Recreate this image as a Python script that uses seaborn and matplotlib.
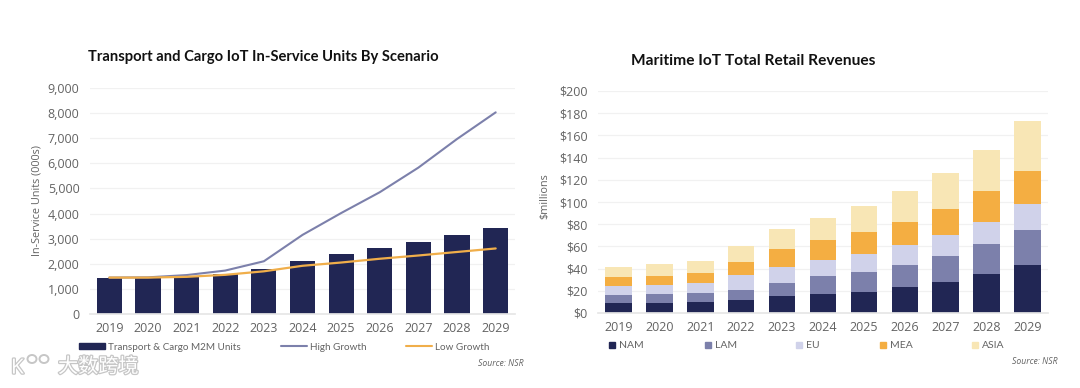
import matplotlib
matplotlib.use("Agg")
import matplotlib.pyplot as plt
import matplotlib.patheffects as pe
from matplotlib.patches import Ellipse
from matplotlib.lines import Line2D
from matplotlib.patches import Patch
import numpy as np
import pandas as pd
import seaborn as sns

# data
years = ["2019", "2020", "2021", "2022", "2023", "2024", "2025", "2026", "2027", "2028", "2029"]

m2m_units = [1430, 1440, 1500, 1600, 1780, 2120, 2390, 2620, 2850, 3140, 3420]
high_growth = [1450, 1460, 1550, 1730, 2100, 3150, 4020, 4850, 5830, 6970, 8030]
low_growth = [1450, 1450, 1480, 1560, 1700, 1920, 2050, 2200, 2330, 2470, 2610]

nam = [9, 9, 10, 12, 15, 17, 19, 23, 28, 35, 43]
lam = [7, 8, 8, 9, 12, 16, 18, 20, 23, 27, 32]
eu = [8, 8, 9, 13, 14, 15, 16, 18, 19, 20, 23]
mea = [8, 8, 9, 12, 17, 18, 20, 21, 24, 28, 30]
asia = [9, 11, 11, 14, 18, 20, 23, 28, 32, 37, 45]

regions = ["NAM", "LAM", "EU", "MEA", "ASIA"]
region_values = [nam, lam, eu, mea, asia]

NAVY = "#212654"
SLATE = "#7c80ab"
LILAC = "#d0d2ea"
ORANGE = "#f4ae42"
CREAM = "#f8e6b5"
GREY = "#636363"
GRID = "#f1f1f1"
LOW_LINE = "#f0ae4a"

sns.set_theme(style="white")
plt.rcParams["font.family"] = ["Open Sans", "Noto Sans CJK SC", "DejaVu Sans"]
LABEL_FONT = ["Lato", "DejaVu Sans"]

W, H = 1080, 388
fig = plt.figure(figsize=(W / 100, H / 100), dpi=100, facecolor="white")


def make_axes(left, right, top, bottom):
    return fig.add_axes([left / W, 1 - bottom / H, (right - left) / W, (bottom - top) / H])


def style_axes(ax, ymax, step, fmt):
    ax.set_ylim(0, ymax)
    ticks = list(range(0, ymax + 1, step))
    ax.set_yticks(ticks)
    ax.set_yticklabels([fmt.format(t) for t in ticks], fontsize=9, color=GREY)
    ax.tick_params(axis="x", labelsize=9, labelcolor=GREY, length=0, pad=6)
    ax.tick_params(axis="y", length=0, pad=7.5)
    ax.grid(axis="y", color=GRID, linewidth=0.9)
    ax.set_axisbelow(True)
    ax.set_xlabel("")
    sns.despine(ax=ax, left=True, top=True, right=True)
    ax.spines["bottom"].set_color("#e6e6e6")


# left chart
ax1 = make_axes(90, 515, 88, 314)
df_left = pd.DataFrame({"year": years, "units": m2m_units, "high": high_growth, "low": low_growth})
sns.barplot(data=df_left, x="year", y="units", color=NAVY, width=0.65, saturation=1, linewidth=0, ax=ax1)
sns.lineplot(data=df_left, x="year", y="high", color=SLATE, linewidth=1.5, ax=ax1)
sns.lineplot(data=df_left, x="year", y="low", color=LOW_LINE, linewidth=1.6, ax=ax1)
style_axes(ax1, 9000, 1000, "{:,}")
ax1.set_xlim(-0.5, 10.5)
ax1.set_ylabel("In-Service Units (000s)", fontsize=7.8, color=GREY, labelpad=3.5)
fig.text(263 / W, 1 - 57 / H, "Transport and Cargo IoT In-Service Units By Scenario",
         fontsize=10.6, fontweight="bold", color="#111111", ha="center", va="center", family=LABEL_FONT)

handles_left = [
    (Patch(color=NAVY), "Transport & Cargo M2M Units", 79),
    (Line2D([], [], color=SLATE, linewidth=1.5), "High Growth", 281),
    (Line2D([], [], color=LOW_LINE, linewidth=1.5), "Low Growth", 406),
]
for handle, label, px in handles_left:
    fig.legend([handle], [label], loc="center left", bbox_to_anchor=(px / W, 1 - 347 / H),
               frameon=False, prop={"family": LABEL_FONT, "size": 7.1}, labelcolor=GREY,
               handlelength=2.6, handleheight=0.45, handletextpad=0.35, borderpad=0, borderaxespad=0)
fig.text(523 / W, 1 - 363 / H, "Source: NSR", fontsize=6.2, style="italic", color=GREY,
         ha="right", va="center")

# right chart
ax2 = make_axes(598, 1048, 91, 313)
df_right = pd.DataFrame(dict(zip(regions, region_values)), index=years)
colors = [NAVY, SLATE, LILAC, ORANGE, CREAM]
bottom = np.zeros(len(years))
for region, color in zip(regions, colors):
    sns.barplot(x=years, y=df_right[region].values, color=color, width=0.65, saturation=1,
                linewidth=0, bottom=bottom, ax=ax2)
    bottom = bottom + df_right[region].values
style_axes(ax2, 200, 20, "${}")
ax2.set_xlim(-0.5, 10.5)
ax2.set_ylabel(r"\$millions", fontsize=7.8, color=GREY, labelpad=6.5, y=0.527)
fig.text(753 / W, 1 - 61 / H, "Maritime IoT Total Retail Revenues",
         fontsize=11.2, fontweight="bold", color="#111111", ha="center", va="center", family=LABEL_FONT)

for region, color, px in zip(regions, colors, [609, 705, 796, 880, 972]):
    fig.legend([Patch(color=color)], [region], loc="center left",
               bbox_to_anchor=(px / W, 1 - 346 / H), frameon=False,
               prop={"family": LABEL_FONT, "size": 7.5}, labelcolor=GREY,
               handlelength=0.6, handleheight=0.6, handletextpad=0.4, borderpad=0, borderaxespad=0)
fig.text(1057 / W, 1 - 362 / H, "Source: NSR", fontsize=6.2, style="italic", color=GREY,
         ha="right", va="center")

# watermark
halo = [pe.withStroke(linewidth=1.8, foreground="#c6c6c6")]
fig.text(58 / W, 1 - 367 / H, "大数跨境", fontsize=14.5, color="white", ha="left", va="center",
         family=["Noto Sans CJK SC", "DejaVu Sans"], path_effects=halo)
fig.text(11 / W, 1 - 368 / H, "K", fontsize=15, color="white", ha="left", va="center",
         path_effects=halo)
for cx, cy in [(32, 359), (44, 359)]:
    fig.add_artist(Ellipse((cx / W, 1 - cy / H), 9 / W, 8 / H, transform=fig.transFigure,
                           facecolor="white", edgecolor="#c6c6c6", linewidth=1.4))

fig.savefig("out.png", dpi=100, facecolor="white")
